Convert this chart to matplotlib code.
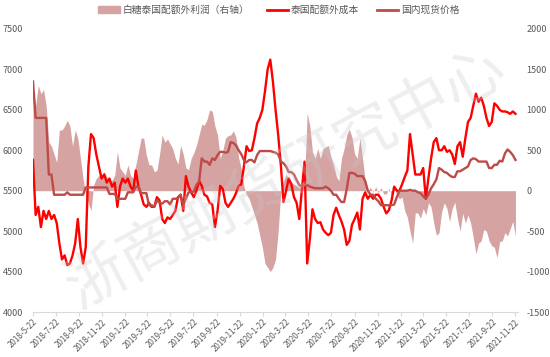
import matplotlib
matplotlib.use("Agg")
from matplotlib import pyplot as plt
from matplotlib.patches import Patch
from matplotlib.lines import Line2D
import pandas as pd

plt.rcParams['font.family'] = ['Noto Sans CJK SC', 'DejaVu Sans']

# weekly samples, starting 2018-05-22
dates = pd.date_range("2018-05-22", periods=184, freq="7D")

# 泰国配额外成本 (left axis)
cost = [5880, 5200, 5300, 5050, 5250, 5150, 5250, 5150, 5200, 5100,
        4850, 4650, 4700, 4580, 4600, 4700, 4850, 5150, 4800, 4600,
        4800, 5800, 6200, 6150, 5950, 5800, 5650, 5700, 5600, 5650,
        5550, 5600, 5300, 5550, 5650, 5600, 5650, 5550, 5500, 5750,
        5550, 5450, 5330, 5300, 5350, 5300,
        5300, 5420, 5380, 5150, 5100, 5170, 5150, 5200, 5250, 5420,
        5450, 5250, 5680, 5550, 5480, 5420, 5500, 5620, 5560, 5450,
        5430, 5350, 5330, 5050, 5250, 5560, 5520, 5350, 5300, 5350,
        5400, 5470, 5560, 5580, 5800, 6050, 5990, 6000, 6150, 6330,
        6400, 6500, 6730, 7000, 7120,
        6850, 6500, 6190, 5820, 5360, 5500, 5650, 5580, 5420, 5350,
        5150, 5520, 5860, 4600, 4900, 5270, 5150, 5100, 5110, 5020,
        4980, 4950, 4980, 5200, 5290, 5200, 5120, 5020, 4830, 4880,
        5080, 5150, 5230, 5020, 5400, 5480, 5400, 5450, 5400, 5450,
        5450, 5400, 5300, 5220, 5260, 5380,
        5550, 5500, 5500, 5580, 5670, 5750, 6200, 5950, 5700, 5700,
        5700, 5780, 5400, 5660, 5900, 6100, 6150, 6000, 6000, 6050,
        5980, 6000, 5950, 5830, 6050, 6100, 5920, 6150, 6350, 6400,
        6550, 6700, 6600, 6650, 6550, 6400, 6300, 6350, 6580, 6550,
        6500, 6480, 6480, 6470, 6450, 6480, 6450]

# 国内现货价格 (left axis)
spot = [6850, 6400, 6400, 6400, 6400, 6400, 5700, 5700,
        5450, 5450, 5450, 5450, 5450, 5480, 5450, 5450, 5450, 5450, 5450, 5450,
        5540, 5540, 5540, 5540, 5540, 5540, 5540, 5540, 5540,
        5460, 5460, 5460, 5400, 5400, 5400, 5400, 5480, 5480, 5480,
        5550, 5550, 5470, 5470, 5470, 5320, 5320,
        5300, 5380, 5350, 5340, 5370, 5370, 5330, 5400, 5400, 5410,
        5450, 5330, 5400, 5480, 5480, 5490, 5570, 5610, 5900, 5860,
        5860, 5820, 5900, 5880, 5940, 5980, 5980, 5970, 5980, 6100,
        6090, 6060, 6000, 5950, 5880, 5850, 5880, 5880, 5850, 5940,
        5990, 5990, 5990, 5990, 5990,
        5980, 5970, 5950, 5860, 5840, 5800, 5730, 5730, 5700, 5630,
        5570, 5550, 5570, 5570, 5550, 5540, 5530, 5530, 5530, 5530,
        5550, 5530, 5500, 5450, 5450, 5400, 5360, 5360, 5520, 5720,
        5720, 5710, 5680, 5680, 5680, 5620, 5500, 5450, 5450, 5400,
        5370, 5320, 5320, 5320, 5320, 5320,
        5330, 5420, 5500, 5500, 5500, 5500, 5510, 5500, 5500, 5480,
        5470, 5430, 5400, 5450, 5530, 5580, 5640, 5780, 5760, 5730,
        5720, 5690, 5670, 5670, 5740, 5740, 5760, 5780, 5800, 5880,
        5900, 5890, 5860, 5860, 5860, 5860, 5780, 5780, 5820, 5820,
        5870, 5860, 5960, 6010, 5980, 5940, 5880]

# 白糖泰国配额外利润 (right axis)
profit = [1300, 1050, 1300, 1200, 1250, 1050, 600, 550, 450, 350,
          750, 750, 800, 870, 800, 550, 750, 650, 400, 150,
          -50, -150, -250, 70, 150, 190, 190, 235, 170, 110,
          130, 190, 480, 280, 235, 190, 320, 190, 150, 320,
          480, 650, 650, 440, 320, 320,
          235, 250, 450, 690, 600, 640, 580, 520, 400, 330,
          560, 450, 280, 260, 400, 470, 560, 690, 820, 810,
          880, 1000, 980, 800, 690, 400, 500, 650, 680, 690,
          740, 660, 410, 270, 50, -50, -100, -200, -300, -400,
          -550, -700, -900, -950, -1000,
          -950, -850, -500, 0, 120, 200, 150, 100, 80, 60,
          40, 30, 100, 960, 800, 480, 400, 520, 400, 520,
          540, 560, 420, 320, 180, 120, 400, 520, 690, 760,
          660, 450, 400, 650, 400, 120, 0, 40, -20, 50,
          -30, 40, -40, -40, 30, -60,
          40, -60, -100, -80, -250, -330, -500, -650, -270, -280,
          -340, -220, -300, -150, -200, -400, -550, -520, -260, -150,
          -220, -380, -220, -140, -350, -500, -280, -400, -300, -400,
          -580, -780, -650, -620, -480, -500, -620, -680, -700, -830,
          -630, -620, -520, -560, -470, -380, -560]

tick_labels = ["2018-5-22", "2018-7-22", "2018-9-22", "2018-11-22",
               "2019-1-22", "2019-3-22", "2019-5-22", "2019-7-22", "2019-9-22", "2019-11-22",
               "2020-1-22", "2020-3-22", "2020-5-22", "2020-7-22", "2020-9-22", "2020-11-22",
               "2021-1-22", "2021-3-22", "2021-5-22", "2021-7-22", "2021-9-22", "2021-11-22"]

left_ticks = [4000, 4500, 5000, 5500, 6000, 6500, 7000, 7500]
right_ticks = [-1500, -1000, -500, 0, 500, 1000, 1500, 2000]

c_area = "#D6A3A3"
c_cost = "#FF0000"
c_spot = "#BE4B48"
c_text = "#595959"
c_axis = "#D9D9D9"

fig = plt.figure(figsize=(5.5, 3.57), dpi=100)
ax = fig.add_axes([0.06, 0.126, 0.882, 0.793])
ax2 = ax.twinx()

ax2.fill_between(dates, 0, profit, color=c_area, linewidth=0)
ax.plot(dates, cost, color=c_cost, lw=1.7)
ax.plot(dates, spot, color=c_spot, lw=1.7)

ax.set_zorder(ax2.get_zorder() + 1)
ax.patch.set_visible(False)

ax.set_ylim(4000, 7500)
ax2.set_ylim(-1500, 2000)
ax.set_xlim(pd.Timestamp("2018-05-22"), pd.Timestamp("2021-11-30"))

ax.set_yticks(left_ticks)
ax.set_yticklabels([str(v) for v in left_ticks])
ax2.set_yticks(right_ticks)
ax2.set_yticklabels([str(v) for v in right_ticks])

tick_pos = [pd.Timestamp(s) for s in tick_labels]
ax.set_xticks(tick_pos)
ax.set_xticklabels(tick_labels, rotation=45, ha="right", va="top",
                   rotation_mode="anchor")

for a in (ax, ax2):
    for s in a.spines.values():
        s.set_visible(False)
ax.spines["bottom"].set_visible(True)
ax.spines["bottom"].set_color(c_axis)

ax.tick_params(axis="y", length=0, labelsize=6.5, labelcolor=c_text, pad=7)
ax2.tick_params(axis="y", length=0, labelsize=6.5, labelcolor=c_text, pad=6)
ax.tick_params(axis="x", length=3, color=c_axis, labelsize=5.8,
               labelcolor=c_text, pad=1)

handles = [Patch(color=c_area),
           Line2D([0], [0], color=c_cost, lw=2),
           Line2D([0], [0], color=c_spot, lw=2)]
labels = ["白糖泰国配额外利润（右轴）", "泰国配额外成本", "国内现货价格"]
fig.legend(handles, labels, loc="center", bbox_to_anchor=(0.507, 0.972),
           ncol=3, frameon=False, fontsize=7, handlelength=2.2,
           handleheight=0.6, columnspacing=1.8, handletextpad=0.3,
           labelcolor=c_text)

# watermark
fig.text(0.52, 0.5, "浙商期货研究中心", fontsize=44, color="#C8C8C8",
         alpha=0.3, rotation=28, ha="center", va="center", zorder=10)

fig.savefig("out.png", dpi=100)
